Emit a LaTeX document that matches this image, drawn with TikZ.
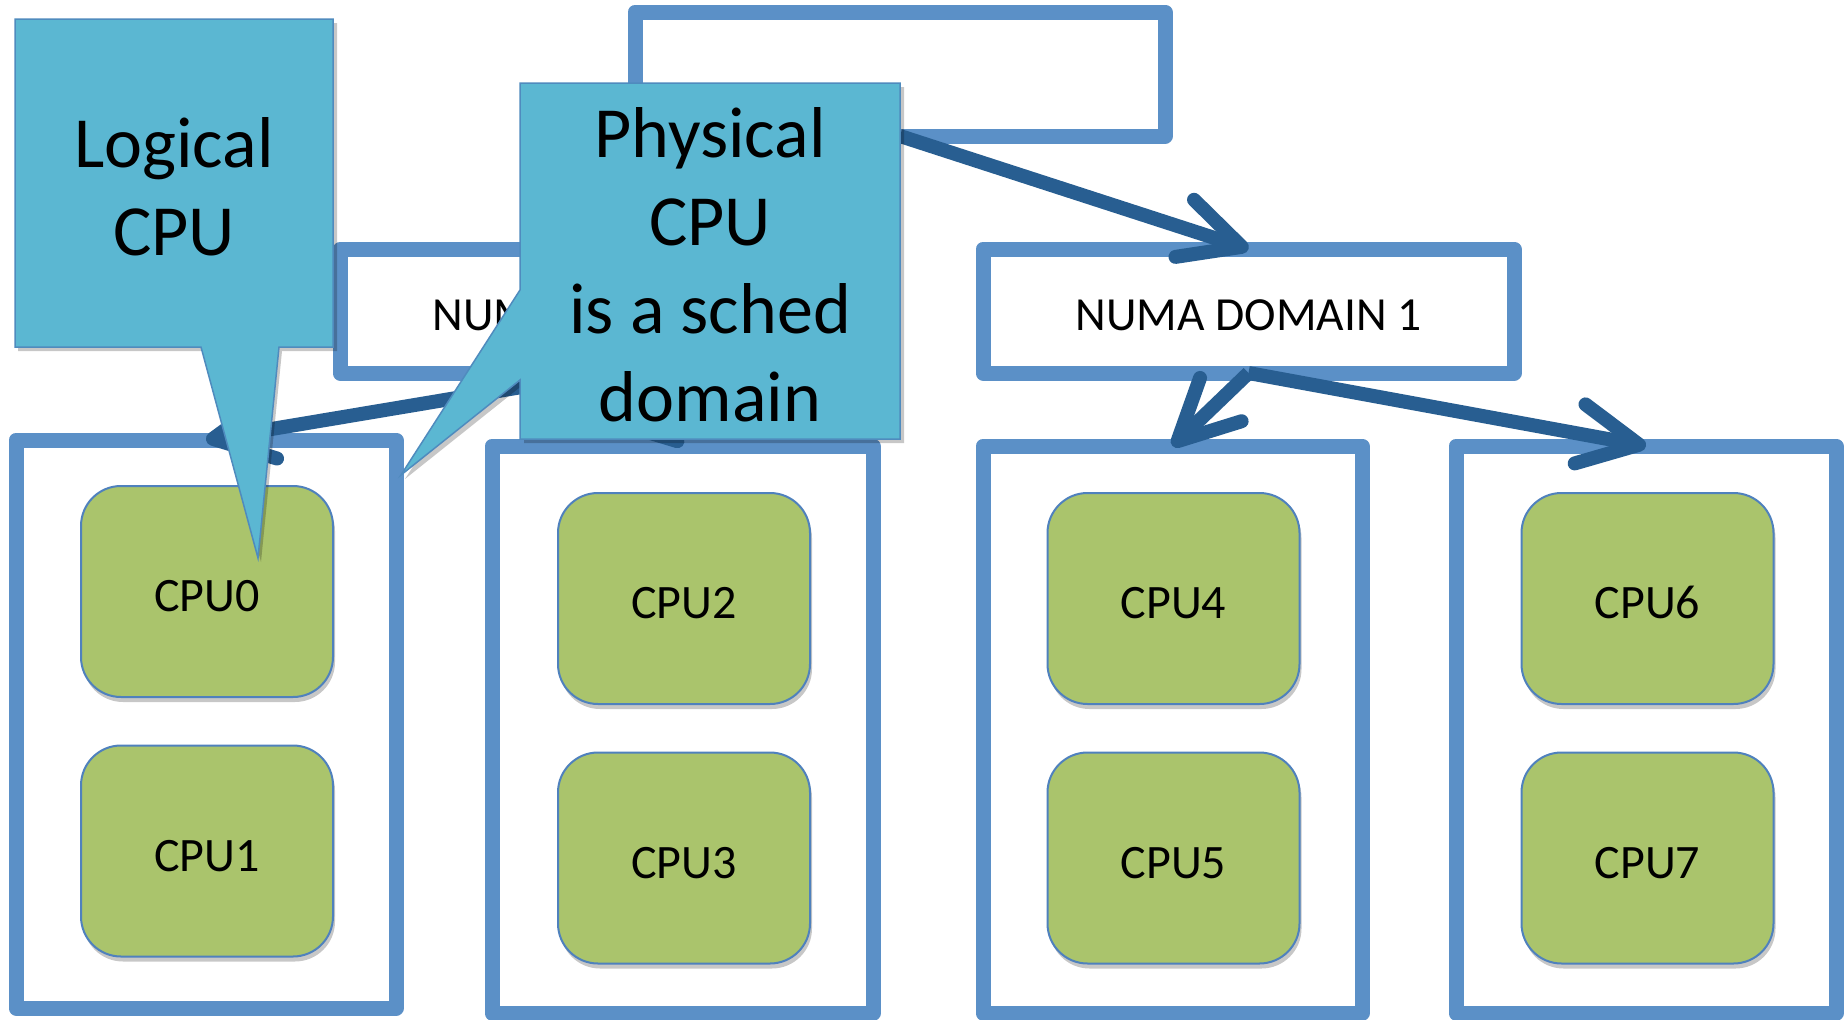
\documentclass[tikz,border=0pt]{standalone}
\usepackage{fontspec}
\setmainfont{Carlito}
\usetikzlibrary{arrows.meta,shadows}
\definecolor{boxblue}{RGB}{91,144,199}
\definecolor{arrowblue}{RGB}{40,94,145}
\definecolor{cpugreen}{RGB}{170,196,108}
\definecolor{cpuborder}{RGB}{79,129,189}
\definecolor{callfill}{RGB}{91,183,210}
\definecolor{callborder}{RGB}{79,139,190}
\begin{document}
\begin{tikzpicture}[x=1pt,y=-1pt,
  domainbox/.style={rectangle, draw=boxblue, line width=15pt, fill=white, outer sep=0pt, inner sep=0pt, line join=round},
  numatext/.style={font=\fontsize{47.5}{57}\selectfont, text height=38pt, text depth=0pt},
  cpubox/.style={rectangle, draw=cpuborder, line width=2pt, fill=cpugreen, rounded corners=40pt,
    minimum width=252pt, minimum height=211pt, outer sep=0pt, inner sep=0pt,
    font=\fontsize{48}{58}\selectfont, text height=40pt, text depth=0pt,
    drop shadow={shadow xshift=2pt, shadow yshift=-5pt, opacity=0.22, fill=black}},
  link/.style={draw=arrowblue, line width=14pt, -{Straight Barb[length=60pt,width=60pt,round]}},
  calloutshape/.style={fill=callfill, draw=callborder, line width=1.5pt, line join=miter},
  calloutshadow/.style={fill=black, opacity=0.22},
  callouttext/.style={font=\fontsize{72}{88}\selectfont, align=center, inner sep=0pt},
  ]
\useasboundingbox[fill=white] (0,0) rectangle (1845,1020);

% domain boxes
\node[domainbox, minimum width=530pt, minimum height=124pt] (top) at (900,74) {};
\node[domainbox, numatext, minimum width=531pt, minimum height=124pt] (numa0) at (605.5,311) {NUMA DOMAIN 0};
\node[domainbox, numatext, minimum width=531pt, minimum height=124pt] (numa1) at (1248.5,311) {NUMA DOMAIN 1};

\node[domainbox, minimum width=380pt, minimum height=568pt] (boxA) at (206,724) {};
\node[domainbox, minimum width=381pt, minimum height=567pt] (boxB) at (682.5,729.5) {};
\node[domainbox, minimum width=379pt, minimum height=567pt] (boxC) at (1172.5,729.5) {};
\node[domainbox, minimum width=380pt, minimum height=567pt] (boxD) at (1646,729.5) {};

% cpus
\node[cpubox] (cpu0) at (207,591.5) {CPU0};
\node[cpubox] (cpu1) at (207,851) {CPU1};
\node[cpubox] (cpu2) at (684,598.5) {CPU2};
\node[cpubox] (cpu3) at (684,858) {CPU3};
\node[cpubox] (cpu4) at (1173.5,598.5) {CPU4};
\node[cpubox] (cpu5) at (1173.5,858) {CPU5};
\node[cpubox] (cpu6) at (1647.5,598.5) {CPU6};
\node[cpubox] (cpu7) at (1647.5,858) {CPU7};

% arrows
\draw[link] (top.south) -- (numa0.north);
\draw[link] (top.south) -- (numa1.north);
\draw[link] (numa0.south) -- (boxA.north);
\draw[link] (numa0.south) -- (boxB.north);
\draw[link] (numa1.south) -- (boxC.north);
\draw[link] (numa1.south) -- (boxD.north);

% callout: Logical CPU
\fill[calloutshadow] (18,23) -- (337,23) -- (337,351) -- (282,351) -- (261,562) -- (204,351) -- (18,351) -- cycle;
\path[calloutshape] (15,19) -- (333,19) -- (333,347) -- (279,347) -- (258,558) -- (201,347) -- (15,347) -- cycle;
\node[callouttext] (logical) at (174,186.5) {Logical\\CPU};

% callout: Physical CPU
\fill[calloutshadow] (524,87) -- (904,87) -- (904,443) -- (524,443) -- (524,384) -- (405,479) -- (524,294) -- cycle;
\path[calloutshape] (520,83) -- (900,83) -- (900,439) -- (520,439) -- (520,380) -- (401,475) -- (520,290) -- cycle;
\node[callouttext] (physical) at (710,265) {Physical\\CPU\\is a sched\\domain};
\end{tikzpicture}
\end{document}
